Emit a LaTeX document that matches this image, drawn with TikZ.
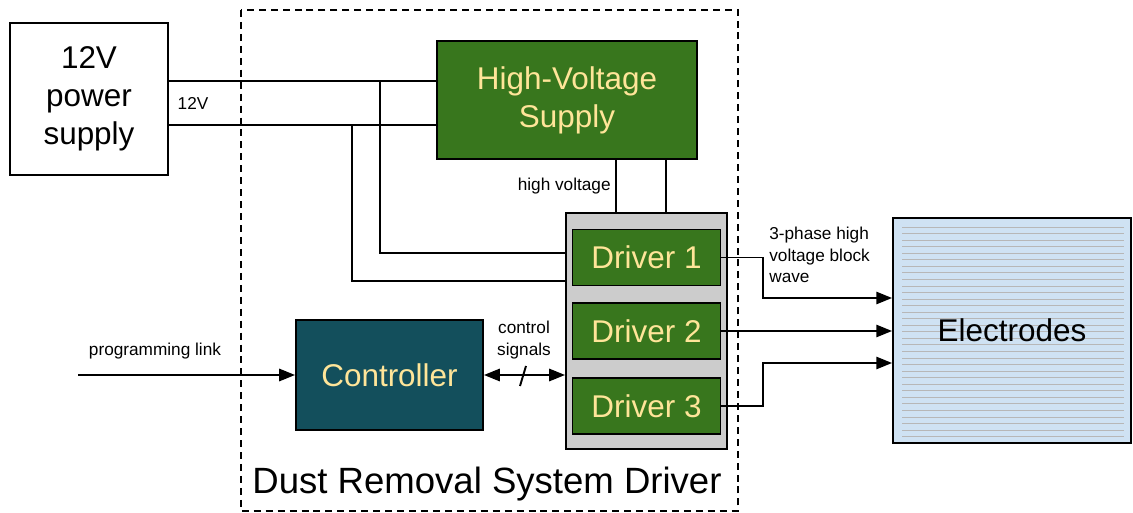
\documentclass[tikz,border=0pt]{standalone}
\usepackage{fontspec}
\setmainfont{Liberation Sans}
\usetikzlibrary{arrows.meta}
\definecolor{hvGreen}{HTML}{38761D}
\definecolor{ctrlTeal}{HTML}{134F5C}
\definecolor{boxText}{HTML}{FFE599}
\definecolor{bankGray}{HTML}{CCCCCC}
\definecolor{elecBlue}{HTML}{CFE2F3}
\definecolor{stripeGray}{HTML}{B7B7B7}
\newcommand{\bigTxt}{\fontsize{17.9}{21.5}\selectfont}
\newcommand{\smallTxt}{\fontsize{9.8}{12.4}\selectfont}
\tikzstyle{plainBox} = [shape=rectangle, draw=black, line width=1.1pt, text=black,
	align=center, fill=white, inner sep=0pt, font=\bigTxt]
\tikzstyle{greenBox} = [plainBox, fill=hvGreen, text=boxText]
\tikzstyle{driverBox} = [greenBox, minimum width=2.96cm, minimum height=1.12cm]
\tikzstyle{smallLabel} = [font=\smallTxt, align=left, inner sep=0pt]
\tikzstyle{wire} = [line width=1.1pt, draw=black]
\tikzstyle{thinWire} = [line width=0.75pt, draw=black]
\tikzstyle{wireArrow} = [wire, -{Triangle[length=9pt, width=7pt]}]

\begin{document}
\begin{tikzpicture}[x=0.02cm, y=-0.02cm]
  \useasboundingbox (0,0) rectangle (1133,513);
  \draw [line width=1.1pt, dash pattern=on 4pt off 2.8pt] (241,10) rectangle (738,511);
  \node (TITLE) [font=\fontsize{20.8}{24}\selectfont] at (487,484) {Dust Removal System Driver};

  \node (PSU) [plainBox, minimum width=3.16cm, minimum height=3.04cm] at (89,99) {12V\\power\\supply};
  \node (HV) [greenBox, minimum width=5.2cm, minimum height=2.36cm] at (567,100) {High-Voltage\\Supply};
  \node (BANK) [plainBox, fill=bankGray, minimum width=3.22cm, minimum height=4.72cm] at (646.5,331) {};
  \node (DRV1) [driverBox] at (646.5,257.5) {Driver 1};
  \node (DRV2) [driverBox] at (646.5,331) {Driver 2};
  \node (DRV3) [driverBox] at (646.5,406) {Driver 3};
  \node (CTRL) [greenBox, fill=ctrlTeal, minimum width=3.74cm, minimum height=2.2cm] at (389.5,375) {Controller};

  % electrodes with stripes
  \node (ELEC) [plainBox, fill=elecBlue, minimum width=4.76cm, minimum height=4.5cm] at (1012,330.5) {};
  \foreach \k in {0,...,32}
    \draw [stripeGray, line width=0.5pt] (902,{227+6.55*\k}) -- (1124,{227+6.55*\k});
  \node (ELECTXT) [font=\bigTxt] at (ELEC) {Electrodes};

  % 12V rails
  \coordinate (RAILA) at (0,81);
  \coordinate (RAILB) at (0,125);
  \coordinate (TAPA) at (380,81);
  \coordinate (TAPB) at (352,125);
  \coordinate (FEEDA) at (0,253);
  \coordinate (FEEDB) at (0,281);
  \draw [wire] (PSU.east |- RAILA) -- (HV.west |- RAILA);
  \draw [wire] (PSU.east |- RAILB) -- (HV.west |- RAILB);
  \node (RAILTXT) [smallLabel] at (193,103) {12V};
  \draw [thinWire] (TAPA) |- (BANK.west |- FEEDA);
  \draw [thinWire] (TAPB) |- (BANK.west |- FEEDB);

  % high voltage
  \coordinate (HVA) at (616,0);
  \coordinate (HVB) at (666,0);
  \draw [wire] (HV.south -| HVA) -- (BANK.north -| HVA);
  \draw [wire] (HV.south -| HVB) -- (BANK.north -| HVB);
  \node (HVTXT) [smallLabel, anchor=east] at (611,186) {high voltage};

  % controller links
  \coordinate (LINK) at (78,375);
  \draw [wireArrow] (LINK) -- (CTRL.west);
  \node (LINKTXT) [smallLabel] at (155,351) {programming link};
  \draw [wire, {Triangle[length=9pt, width=7pt]}-{Triangle[length=9pt, width=7pt]}] (CTRL.east) -- (BANK.west |- CTRL.east);
  \draw [wire] (520,386) -- (526,366);
  \node (CTRLTXT) [smallLabel, align=center] at (524,340) {control\\signals};

  % outputs to electrodes
  \coordinate (BENDX) at (763,0);
  \coordinate (OUTA) at (0,298);
  \coordinate (OUTC) at (0,363);
  \draw [wireArrow] (DRV1.east) -| (BENDX |- OUTA) -- (ELEC.west |- OUTA);
  \draw [wireArrow] (DRV2.east) -- (ELEC.west |- DRV2.east);
  \draw [wireArrow] (DRV3.east) -| (BENDX |- OUTC) -- (ELEC.west |- OUTC);
  \node (WAVETXT) [smallLabel, anchor=west] at (769,255) {3-phase high\\voltage block\\wave};

\end{tikzpicture}
\end{document}
